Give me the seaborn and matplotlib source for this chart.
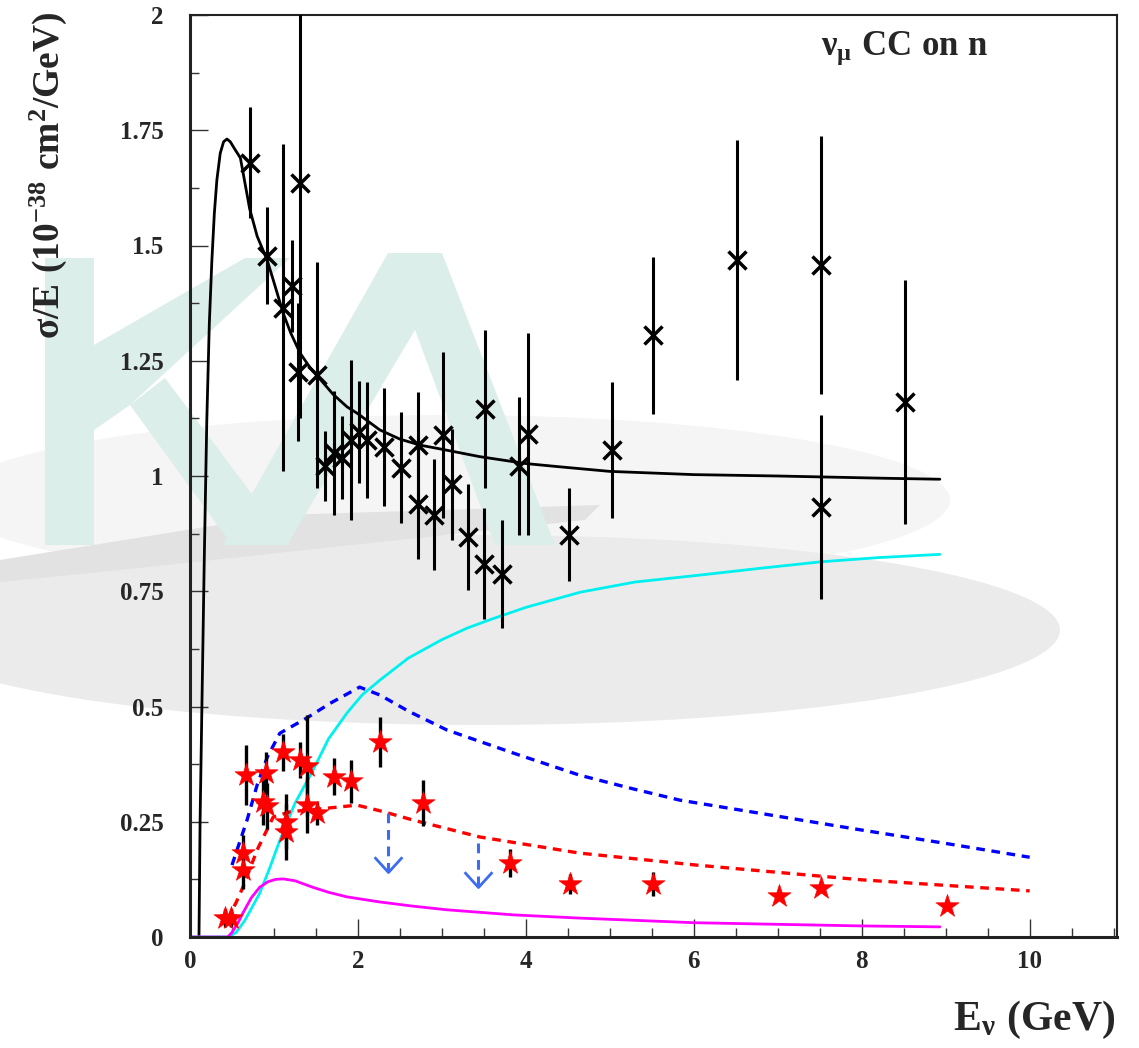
import pandas as pd
import seaborn as sns
import matplotlib.pyplot as plt
from matplotlib.patches import Polygon, Ellipse
from matplotlib.path import Path
from matplotlib.ticker import MultipleLocator, FuncFormatter

# ---- data ----
# total nu_mu CC on n model curve (black)
total_e = [0.107, 0.12, 0.14, 0.17, 0.2, 0.23, 0.26, 0.29, 0.32, 0.36, 0.40, 0.44, 0.48,
           0.53, 0.6, 0.65, 0.71, 0.8, 0.92, 1.0, 1.11, 1.2, 1.31, 1.43, 1.55, 1.7, 1.87,
           2.0, 2.26, 2.5, 2.74, 3.0, 3.45, 4.0, 4.4, 5.0, 6.0, 7.0, 7.52, 8.3, 8.93]
total_v = [0.0, 0.25, 0.48, 0.82, 1.12, 1.33, 1.466, 1.57, 1.642, 1.70, 1.725, 1.731, 1.725,
           1.71, 1.69, 1.64, 1.58, 1.52, 1.468, 1.42, 1.353, 1.31, 1.267, 1.235, 1.21, 1.178, 1.15,
           1.135, 1.1, 1.08, 1.067, 1.058, 1.042, 1.027, 1.02, 1.01, 1.003, 1.0, 0.998, 0.995, 0.993]

# rising curve (cyan)
dis_e = [0.0, 0.45, 0.55, 0.65, 0.75, 0.83, 0.95, 1.07, 1.25, 1.46, 1.65, 1.87, 2.05, 2.26,
         2.6, 3.0, 3.3, 3.6, 4.0, 4.65, 5.3, 6.07, 6.8, 7.52, 8.2, 8.93]
dis_v = [0.0, 0.0, 0.01, 0.035, 0.068, 0.095, 0.15, 0.21, 0.29, 0.36, 0.43, 0.486, 0.525, 0.557,
         0.605, 0.645, 0.67, 0.69, 0.715, 0.748, 0.77, 0.785, 0.80, 0.814, 0.823, 0.83]

# magenta curve
mag_e = [0.0, 0.45, 0.5, 0.57, 0.63, 0.73, 0.83, 0.93, 1.02, 1.11, 1.25, 1.46, 1.65, 1.87,
         2.26, 2.65, 3.06, 3.85, 4.64, 6.0, 8.0, 8.93]
mag_v = [0.0, 0.0, 0.01, 0.03, 0.052, 0.085, 0.108, 0.12, 0.125, 0.126, 0.122, 0.108, 0.097,
         0.087, 0.076, 0.067, 0.059, 0.048, 0.041, 0.031, 0.024, 0.022]

# blue dashed curve
blue_e = [0.5, 0.68, 0.8, 0.92, 1.07, 1.39, 1.67, 2.02, 2.26, 2.6, 3.06, 3.85, 4.64, 5.24,
          5.83, 7.0, 8.0, 9.0, 10.0]
blue_v = [0.156, 0.254, 0.33, 0.39, 0.442, 0.475, 0.507, 0.542, 0.525, 0.49, 0.449, 0.399,
          0.351, 0.323, 0.297, 0.262, 0.232, 0.203, 0.173]

# red dashed curve
red_e = [0.44, 0.55, 0.63, 0.8, 0.99, 1.2, 1.39, 1.99, 2.3, 2.65, 3.45, 4.64, 6.03, 8.0, 10.0]
red_v = [0.037, 0.075, 0.108, 0.189, 0.26, 0.272, 0.275, 0.286, 0.272, 0.254, 0.217, 0.182,
         0.156, 0.124, 0.1]

# black data points (asterisks)
qe_e = [0.71, 0.92, 1.11, 1.21, 1.31, 1.29, 1.51, 1.61, 1.71, 1.81, 1.92, 2.01, 2.11, 2.31,
        2.51, 2.71, 2.71, 2.91, 3.01, 3.12, 3.31, 3.51, 3.5, 3.72, 3.92, 4.02, 4.51, 5.02,
        5.51, 6.51, 7.52, 7.52, 8.51]
qe_v = [1.68, 1.478, 1.365, 1.412, 1.635, 1.225, 1.22, 1.022, 1.05, 1.04, 1.078, 1.095, 1.078,
        1.062, 1.018, 1.068, 0.94, 0.916, 1.088, 0.982, 0.868, 1.145, 0.81, 0.788, 1.022, 1.091,
        0.873, 1.056, 1.305, 1.469, 1.458, 0.933, 1.16]
qe_err = [0.12, 0.105, 0.355, 0.10, 0.51, 0.15, 0.245, 0.076, 0.135, 0.09, 0.173, 0.11, 0.126,
          0.128, 0.12, 0.115, 0.12, 0.12, 0.18, 0.12, 0.115, 0.172, 0.12, 0.117, 0.15, 0.22,
          0.1, 0.147, 0.17, 0.26, 0.28, 0.2, 0.265]

# red star data points
pi_e = [0.42, 0.49, 0.63, 0.63, 0.67, 0.87, 0.90, 0.92, 1.11, 1.14, 1.14, 1.31, 1.39, 1.39,
        1.51, 1.71, 1.92, 2.26, 2.77, 3.81, 4.52, 5.51, 7.01, 7.52, 9.01]
pi_v = [0.041, 0.041, 0.182, 0.145, 0.352, 0.293, 0.356, 0.284, 0.401, 0.25, 0.228, 0.384,
        0.372, 0.286, 0.268, 0.348, 0.338, 0.423, 0.291, 0.161, 0.115, 0.115, 0.089, 0.107, 0.067]
pi_err = [0.02, 0.02, 0.04, 0.04, 0.065, 0.05, 0.045, 0.05, 0.04, 0.06, 0.06, 0.04, 0.11, 0.06,
          0.025, 0.04, 0.047, 0.055, 0.05, 0.03, 0.022, 0.025, 0.0, 0.0, 0.0]

# upper limits (blue arrows)
ul_e = [2.36, 3.43]
ul_top = [0.27, 0.204]
ul_tip = [0.14, 0.108]

W, H = 1139, 1048

sns.set_style("ticks")
plt.rcParams["mathtext.fontset"] = "custom"
plt.rcParams["mathtext.rm"] = "Liberation Serif"
plt.rcParams["mathtext.bf"] = "Liberation Serif:bold"
plt.rcParams["mathtext.it"] = "Liberation Serif:bold"
plt.rcParams["font.family"] = ["Liberation Serif", "DejaVu Serif"]

fig = plt.figure(figsize=(W / 100, H / 100), dpi=100)
fig.patch.set_facecolor("white")
ax = fig.add_axes([190 / W, 1 - 937 / H, (1117 - 190) / W, (937 - 15) / H])
ax.set_facecolor("none")


# faint "KA" logo watermark in the background (figure pixel coords)
def px(pts):
    return [(x / W, 1 - y / H) for x, y in pts]


fig.add_artist(Ellipse((450 / W, 1 - 500 / H), 1000 / W, 170 / H, transform=fig.transFigure,
                       facecolor="#f5f5f5", edgecolor="none", zorder=-9))
fig.add_artist(Ellipse((480 / W, 1 - 630 / H), 1160 / W, 190 / H, transform=fig.transFigure,
                       facecolor="#ebebeb", edgecolor="none", zorder=-8))
shadow = [(0, 560), (280, 515), (600, 505), (585, 520), (120, 570), (0, 582)]
fig.add_artist(Polygon(px(shadow), closed=True, transform=fig.transFigure,
                       facecolor="#e2e2e2", edgecolor="none", zorder=-7))
teal = "#dbeeea"
k_bar = [(45, 258), (94, 258), (94, 545), (45, 545)]
k_up = [(94, 345), (245, 258), (290, 258), (130, 405), (94, 430)]
k_low = [(130, 405), (165, 378), (290, 545), (232, 545)]
lam = [(223, 545), (388, 253), (442, 253), (555, 545), (495, 545), (415, 330), (287, 545)]
for poly in (k_bar, k_up, k_low, lam):
    fig.add_artist(Polygon(px(poly), closed=True, transform=fig.transFigure,
                           facecolor=teal, edgecolor="none", zorder=-6))

# ---- model curves ----
curves = [
    (total_e, total_v, "black", None),
    (dis_e, dis_v, "#00f0f0", None),
    (mag_e, mag_v, "#ff00ff", None),
    (blue_e, blue_v, "#0000ff", (2.6, 2.0)),
    (red_e, red_v, "#ff0000", (2.6, 2.0)),
]
for xs, ys, col, dash in curves:
    df = pd.DataFrame({"E": xs, "v": ys})
    sns.lineplot(data=df, x="E", y="v", ax=ax, color=col, sort=False,
                 estimator=None, linewidth=2.0 if dash is None else 2.4)
    if dash is not None:
        ax.lines[-1].set_dashes(dash)

# ---- data points ----
ax.errorbar(qe_e, qe_v, yerr=qe_err, fmt="none", ecolor="black", elinewidth=2.2,
            capsize=0, zorder=4)
ax.plot(qe_e, qe_v, linestyle="none", marker="x", markersize=13, markeredgewidth=2.5,
        color="black", zorder=5)
ax.plot(qe_e, qe_v, linestyle="none", marker="|", markersize=14, markeredgewidth=2.2,
        color="black", zorder=5)

ax.errorbar(pi_e, pi_v, yerr=pi_err, fmt="none", ecolor="black", elinewidth=2.4,
            capsize=0, zorder=4)
sns.scatterplot(x=pi_e, y=pi_v, ax=ax, marker="*", s=300, color="#ff0000",
                edgecolor="#ff0000", linewidth=0.5, zorder=6)

chevron = Path([(-1, 1.1), (0, 0), (1, 1.1)], [Path.MOVETO, Path.LINETO, Path.LINETO])
for xe, top, tip in zip(ul_e, ul_top, ul_tip):
    ax.plot([xe, xe], [top, tip + 0.004], color="#3d6cf0", linewidth=2.2,
            dashes=(3.2, 2.2), zorder=5)
    ax.plot([xe], [tip], marker=chevron, markersize=22, markerfacecolor="none",
            markeredgecolor="#3d6cf0", markeredgewidth=2.0, linestyle="none", zorder=5)

# ---- axes styling (ROOT-like) ----
ax.set_xlim(0, 11.04)
ax.set_ylim(0, 2)
ax.xaxis.set_major_locator(MultipleLocator(2))
ax.xaxis.set_minor_locator(MultipleLocator(0.5))
ax.yaxis.set_major_locator(MultipleLocator(0.25))
ax.yaxis.set_minor_locator(MultipleLocator(0.125))
fmt = FuncFormatter(lambda v, p: f"{v:g}")
ax.xaxis.set_major_formatter(fmt)
ax.yaxis.set_major_formatter(fmt)
ax.tick_params(which="both", direction="in", top=False, right=False, color="#333333")
ax.tick_params(which="major", length=13, width=1.0)
ax.tick_params(which="minor", length=6.5, width=1.0)
ax.tick_params(axis="x", pad=9)
ax.tick_params(axis="y", pad=19)
for lab in ax.get_xticklabels() + ax.get_yticklabels():
    lab.set_fontfamily("Liberation Serif")
    lab.set_fontweight("bold")
    lab.set_fontsize(18)
ax.set_xlabel("")
ax.set_ylabel("")
for side in ("left", "bottom"):
    ax.spines[side].set_linewidth(2.2)
for side in ("top", "right"):
    ax.spines[side].set_linewidth(1.5)
for sp in ax.spines.values():
    sp.set_color("#222222")
    sp.set_visible(True)

ax.text((988 - 190) / 927, (937 - 48) / 922, r"$\mathbf{\nu_{\mu}\ CC\ on\ n}$",
        transform=ax.transAxes, ha="right", va="center", fontsize=25)
fig.text(48 / W, 1 - 12 / H, r"$\mathbf{\sigma/E\ (10^{-38}\ cm^{2}/GeV)}$",
         rotation=90, ha="center", va="top", fontsize=27)
fig.text(1115 / W, 1 - 1020 / H, r"$\mathbf{E_{\nu}\ (GeV)}$",
         ha="right", va="center", fontsize=30)

fig.savefig("out.png", dpi=100)
